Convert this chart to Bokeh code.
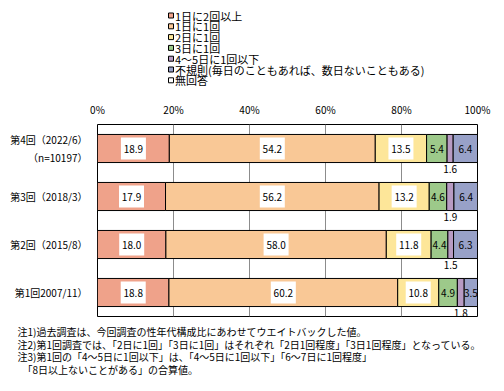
from bokeh.plotting import figure
from bokeh.models import (ColumnDataSource, FactorRange, FixedTicker, PrintfTickFormatter, Range1d, Plot)
from bokeh.layouts import column
from bokeh.embed import file_html
from bokeh.resources import INLINE
from bokeh.core.properties import value

FONT = "Noto Sans CJK JP"

# ---- data ----
rounds = ["第1回2007/11）", "第2回（2015/8）", "第3回（2018/3）",
          "第4回（2022/6）\n\u200b\u3000（n=10197）"]  # bottom -> top
series = ["1日に2回以上", "1日に1回", "2日に1回", "3日に1回", "4～5日に1回以下",
          "不規則(毎日のこともあれば、数日ないこともある)", "無回答"]
v_2plus = [18.8, 18.0, 17.9, 18.9]
v_daily = [60.2, 58.0, 56.2, 54.2]
v_2day = [10.8, 11.8, 13.2, 13.5]
v_3day = [4.9, 4.4, 4.6, 5.4]
v_45day = [1.8, 1.5, 1.9, 1.6]
v_irreg = [3.5, 6.3, 6.4, 6.4]
v_na = [0.0, 0.0, 0.0, 0.0]
x_ticks = [0, 20, 40, 60, 80, 100]
colors = ["#EFA28A", "#F9C896", "#FDE699", "#9DC98A", "#B89BC3", "#98A1C8", "#FFFFFF"]
notes = [
    "注1)過去調査は、今回調査の性年代構成比にあわせてウエイトバックした値。",
    "注2)第1回調査では、「2日に1回」「3日に1回」はそれぞれ「2日1回程度」「3日1回程度」となっている。",
    "注3)第1回の「4～5日に1回以下」は、「4～5日に1回以下」「6～7日に1回程度」",
    "「8日以上ないことがある」の合算値。",
]

W = 504
FA = {"frame_align": False} if "frame_align" in Plot.properties() else {}

values = [v_2plus, v_daily, v_2day, v_3day, v_45day, v_irreg, v_na]
keys = ["s%d" % i for i in range(len(series))]
data = {"round": rounds}
for k, v in zip(keys, values):
    data[k] = v
src = ColumnDataSource(data)


def blank_fig(h):
    f = figure(width=W, height=h, output_backend="svg", toolbar_location=None,
               x_range=Range1d(0, W), y_range=Range1d(h, 0),
               x_axis_type=None, y_axis_type=None, min_border=0, **FA)
    f.outline_line_color = None
    f.background_fill_color = "white"
    f.border_fill_color = "white"
    return f


# ---- legend (top strip, 1 unit = 1 px) ----
LH = 90
leg = blank_fig(LH)
row_y = [15 + 10.8 * i for i in range(len(series))]
leg.rect(x=[170.5] * len(series), y=row_y, width=5, height=5,
         fill_color=colors, line_color="black", line_width=1)
leg.text(x=[174.5] * len(series), y=row_y, text=series, text_align="left",
         text_baseline="middle", text_font=value(FONT), text_font_size="11px",
         text_color="black")

# ---- main chart ----
p = figure(width=W, height=234, output_backend="svg", toolbar_location=None,
           y_range=FactorRange(*rounds, range_padding=0.0), x_range=(0, 100),
           x_axis_location="above",
           min_border_left=97, min_border_right=27, min_border_top=34, min_border_bottom=8, **FA)
p.background_fill_color = "white"
p.border_fill_color = "white"
p.outline_line_color = "black"
p.outline_line_width = 1

rs = p.hbar_stack(keys, y="round", height=0.585, color=colors, line_color="black",
                  line_width=1, source=src)

p.ygrid.grid_line_color = None
p.xgrid.ticker = FixedTicker(ticks=x_ticks)
p.xgrid.grid_line_color = "#8c8c8c"
p.xgrid.grid_line_width = 1

xa = p.xaxis[0]
xa.ticker = FixedTicker(ticks=x_ticks)
xa.formatter = PrintfTickFormatter(format="%d%%")
xa.axis_line_color = None
xa.major_tick_line_color = None
xa.minor_tick_line_color = None
xa.major_tick_out = 0
xa.major_label_standoff = 8
xa.major_label_text_font = FONT
xa.major_label_text_font_size = "10px"
xa.major_label_text_color = "black"

ya = p.yaxis[0]
ya.axis_line_color = None
ya.major_tick_line_color = None
ya.major_tick_out = 0
ya.major_label_standoff = 10
ya.major_label_text_font = FONT
ya.major_label_text_font_size = "10px"
ya.major_label_text_color = "black"

bx, by, bt = [], [], []
px, py, pt = [], [], []
ux, uy, ut = [], [], []
for ri, r in enumerate(rounds):
    left = 0.0
    for si, v in enumerate(values):
        val = v[ri]
        c = left + val / 2.0
        left += val
        if val <= 0:
            continue
        if si in (0, 1, 2):
            bx.append(c); by.append(r); bt.append("%.1f" % val)
        elif si in (3, 5):
            px.append(c); py.append(r); pt.append("%.1f" % val)
        elif si == 4:
            ux.append(c); uy.append(r); ut.append("%.1f" % val)

p.rect(x=bx, y=by, width=25, height=22, width_units="screen", height_units="screen",
       fill_color="white", line_color=None)
for xs, ys, ts, yo in ((bx, by, bt, 0), (px, py, pt, 0), (ux, uy, ut, 20)):
    p.text(x=xs, y=ys, text=ts, text_align="center", text_baseline="middle",
           text_font=value(FONT), text_font_size="10px", text_color="black", y_offset=yo)

# ---- notes (bottom strip) ----
NH = 67
nf = blank_fig(NH)
note_x = [17, 17, 17, 22]
note_y = [7 + 12.5 * i for i in range(len(notes))]
nf.text(x=note_x, y=note_y, text=notes, text_align="left", text_baseline="middle",
        text_font=value(FONT), text_font_size="10px", text_color="black")

layout = column(leg, p, nf, spacing=0)
open("out.html", "w").write(file_html(layout, INLINE))
